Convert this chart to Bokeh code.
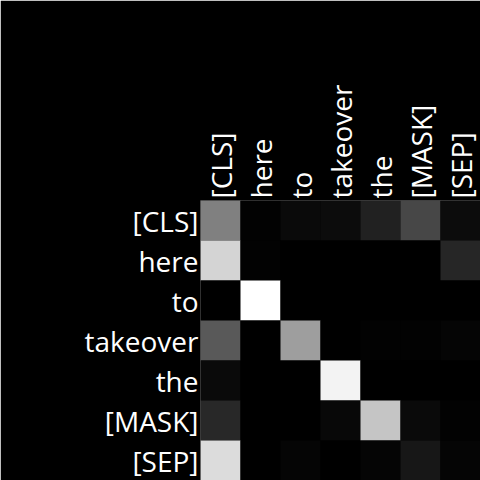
import math
from bokeh.plotting import figure
from bokeh.models import ColumnDataSource, LinearColorMapper, FactorRange
from bokeh.transform import transform
from bokeh.embed import file_html
from bokeh.resources import INLINE

tokens = ["[CLS]", "here", "to", "takeover", "the", "[MASK]", "[SEP]"]

# attention weights (rows = query token, columns = key token), 0..1
weights = [
    [0.50, 0.01, 0.04, 0.05, 0.13, 0.28, 0.05],
    [0.83, 0.01, 0.00, 0.00, 0.00, 0.00, 0.15],
    [0.00, 1.00, 0.00, 0.00, 0.00, 0.00, 0.00],
    [0.35, 0.00, 0.62, 0.00, 0.01, 0.01, 0.02],
    [0.04, 0.00, 0.00, 0.95, 0.00, 0.00, 0.00],
    [0.16, 0.00, 0.00, 0.035, 0.77, 0.04, 0.01],
    [0.86, 0.00, 0.02, 0.00, 0.02, 0.09, 0.02],
]

xs, ys, vs = [], [], []
for i, row_tok in enumerate(tokens):
    for j, col_tok in enumerate(tokens):
        xs.append(col_tok)
        ys.append(row_tok)
        vs.append(weights[i][j])

source = ColumnDataSource(dict(x=xs, y=ys, v=vs))
palette = ["#%02x%02x%02x" % (k, k, k) for k in range(256)]
mapper = LinearColorMapper(palette=palette, low=0.0, high=1.0)

p = figure(
    width=480, height=480,
    x_range=FactorRange(*tokens),
    y_range=FactorRange(*reversed(tokens)),
    x_axis_location="above",
    output_backend="svg", toolbar_location=None,
    min_border_left=200, min_border_top=200,
    min_border_right=0, min_border_bottom=0,
)
p.rect(x="x", y="y", width=1, height=1, source=source,
       fill_color=transform("v", mapper), line_color=None)

p.background_fill_color = "black"
p.border_fill_color = "black"
p.outline_line_color = None
p.grid.grid_line_color = None
for ax in (p.xaxis[0], p.yaxis[0]):
    ax.axis_line_color = None
    ax.major_tick_line_color = None
    ax.minor_tick_line_color = None
    ax.major_tick_out = 0
    ax.major_tick_in = 0
    ax.major_label_text_color = "white"
    ax.major_label_text_font = "Open Sans"
    ax.major_label_text_font_size = "28px"
    ax.major_label_standoff = 2
p.xaxis.major_label_orientation = math.pi / 2

html = file_html(p, INLINE)
html = html.replace("<body>", '<body style="margin:0;background:black">', 1)
open("out.html", "w").write(html)
